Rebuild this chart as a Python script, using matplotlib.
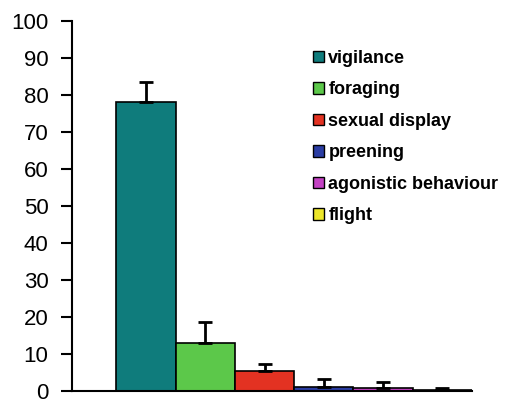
import numpy as np
import matplotlib
matplotlib.use('Agg')
import matplotlib.pyplot as plt
from matplotlib.patches import Patch

plt.rcParams['font.family'] = ['Liberation Sans', 'DejaVu Sans']

behaviours = ['vigilance', 'foraging', 'sexual display', 'preening',
              'agonistic behaviour', 'flight']
means = [78.2, 13.0, 5.3, 1.1, 0.8, 0.2]
errors = [5.3, 5.6, 2.1, 2.1, 1.6, 0.7]
colors = ['#0f7c7c', '#5cc84a', '#e33222', '#2b3da3', '#c442c4', '#ece62a']

fig = plt.figure(figsize=(5.22, 4.04), dpi=100)
ax = fig.add_axes([0.138, 0.0322, 0.766, 0.916])

x = np.arange(len(means))
ax.bar(x, means, width=1.0, color=colors, edgecolor='black', linewidth=1.2,
       yerr=[np.zeros(len(errors)), errors],
       error_kw=dict(ecolor='black', elinewidth=2, capsize=5, capthick=2))

ax.set_xlim(-1.25, 5.5)
ax.set_ylim(0, 100)
ax.set_yticks(np.arange(0, 101, 10))
ax.set_xticks([])
ax.spines['top'].set_visible(False)
ax.spines['right'].set_visible(False)
ax.spines['left'].set_linewidth(1.5)
ax.spines['bottom'].set_linewidth(1.5)
ax.tick_params(axis='y', labelsize=16, width=1.5, length=8, pad=9)

handles = [Patch(facecolor=c, edgecolor='black', label=b) for b, c in zip(behaviours, colors)]
leg = fig.legend(handles=handles, loc='upper left', bbox_to_anchor=(313 / 522, 1 - 50 / 404),
                 frameon=False, prop={'size': 13, 'weight': 'bold'}, borderpad=0,
                 borderaxespad=0, handlelength=0.6, handleheight=0.6,
                 handletextpad=0.25, labelspacing=0.80)

fig.savefig('out.png', dpi=100)
